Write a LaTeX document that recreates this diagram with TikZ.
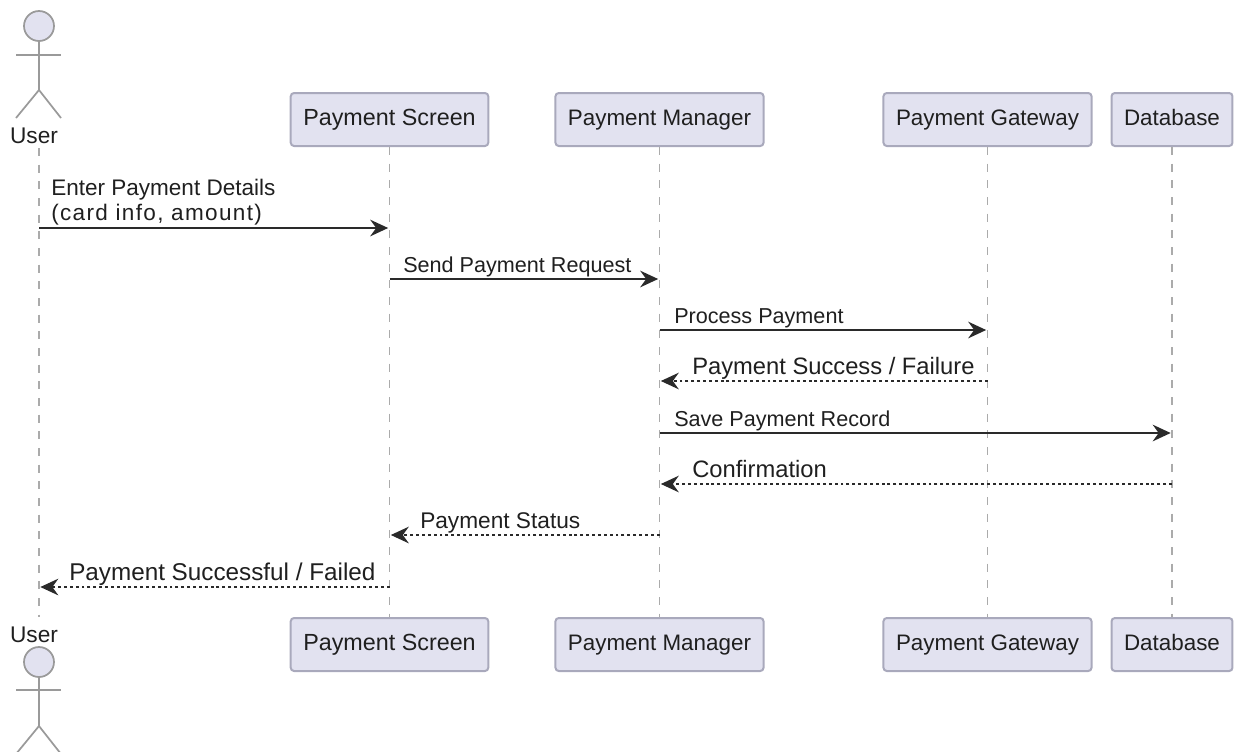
\documentclass[tikz,border=0pt]{standalone}
\usepackage{fontspec}
\usepackage{xcolor}
\usetikzlibrary{arrows.meta}
\setmainfont{Liberation Sans}
\newfontfamily\spacedfont[LetterSpace=6]{Liberation Sans}

\definecolor{partfill}{HTML}{E2E2F0}
\definecolor{partline}{HTML}{A9A9BC}
\definecolor{lifeline}{HTML}{ABABAB}
\definecolor{inkline}{HTML}{2A2A2A}

\tikzset{
    part/.style={draw=partline, fill=partfill, line width=1.5pt, rounded corners=2.5pt,
        minimum height=39.75pt, inner xsep=9.4pt, inner ysep=0pt, text=black!88,
        text height=12.5pt, text depth=3.5pt, font=\fontsize{17.5}{20}\selectfont},
    slim/.style={font=\fontsize{16.8}{20}\selectfont},
    actor/.style={draw=lifeline!90!black, line width=1.3pt},
    who/.style={inner sep=0pt, anchor=base, text=black!88, font=\fontsize{17}{20}\selectfont},
    life/.style={draw=lifeline, line width=1.4pt, dash pattern=on 6pt off 6.5pt},
    call/.style={draw=inkline, line width=1.3pt, -{Stealth[length=13.5pt, width=12.5pt, inset=4.5pt]}, shorten >=1pt},
    reply/.style={draw=inkline, line width=0.9pt, dash pattern=on 2.2pt off 2.2pt, -{Stealth[length=13.5pt, width=12.5pt, inset=4.5pt]}, shorten >=1pt},
    tight/.style={inner sep=0pt, anchor=base west, text=black!88, font=\fontsize{16.2}{19}\selectfont},
    wide/.style={inner sep=0pt, anchor=base west, align=left, text=black!88, font=\fontsize{#1}{18.75}\selectfont},
}

\begin{document}
\begin{tikzpicture}[x=0.75pt, y=-0.75pt]
    \useasboundingbox (0,0) rectangle (1237,751);

    % Participants
    \node[who] (userTop) at (34,143) {User};
    \node[part] (screenTop) at (389.5,119.5) {Payment Screen};
    \node[part, slim] (managerTop) at (659.5,119.5) {Payment Manager};
    \node[part, slim] (gatewayTop) at (987.5,119.5) {Payment Gateway};
    \node[part, slim] (dbTop) at (1172,119.5) {Database};

    \node[who] (userBot) at (34,642) {User};
    \node[part] (screenBot) at (389.5,644.5) {Payment Screen};
    \node[part, slim] (managerBot) at (659.5,644.5) {Payment Manager};
    \node[part, slim] (gatewayBot) at (987.5,644.5) {Payment Gateway};
    \node[part, slim] (dbBot) at (1172,644.5) {Database};

    % Actors
    \draw[actor, fill=partfill] (39,26) circle (15);
    \draw[actor] (39,41) -- (39,90);
    \draw[actor] (16,55) -- (61,55);
    \draw[actor] (16,118) -- (39,90) -- (61,118);

    \draw[actor, fill=partfill] (39,662) circle (15);
    \draw[actor] (39,677) -- (39,726);
    \draw[actor] (16,690) -- (61,690);
    \draw[actor] (16,754) -- (39,726) -- (61,754);

    % Lifelines
    \coordinate (userA) at (39,148);
    \coordinate (userB) at (39,617);
    \draw[life] (userA) -- (userB);
    \draw[life] (screenTop) -- (screenBot);
    \draw[life] (managerTop) -- (managerBot);
    \draw[life] (gatewayTop) -- (gatewayBot);
    \draw[life] (dbTop) -- (dbBot);

    % Message ends
    \foreach \who/\x in {user/39, screen/389.5, manager/659.5, gateway/987.5, db/1172}
        \foreach \row/\y in {1/228, 2/279, 3/330, 4/381, 5/433, 6/484, 7/535, 8/587}
            \coordinate (\who\row) at (\x,\y);

    % Messages
    \draw[call] (user1) -- (screen1);
    \draw[call] (screen2) -- (manager2);
    \draw[call] (manager3) -- (gateway3);
    \draw[reply] (gateway4) -- (manager4);
    \draw[call] (manager5) -- (db5);
    \draw[reply] (db6) -- (manager6);
    \draw[reply] (manager7) -- (screen7);
    \draw[reply] (screen8) -- (user8);

    % Labels
    \node[wide=16.9] (lblEnter) at (51,220) {Enter Payment Details\\{\spacedfont (card info, amount)}};
    \node[tight] (lblSend) at (403,272) {Send Payment Request};
    \node[tight] (lblProcess) at (674,323) {Process Payment};
    \node[wide=17.8] (lblResult) at (692,374) {Payment Success / Failure};
    \node[tight] (lblSave) at (674,426) {Save Payment Record};
    \node[wide=17.8] (lblConfirm) at (692,477) {Confirmation};
    \node[wide=17] (lblStatus) at (420,528) {Payment Status};
    \node[wide=18.2] (lblFinal) at (69,580) {Payment Successful / Failed};
\end{tikzpicture}
\end{document}
